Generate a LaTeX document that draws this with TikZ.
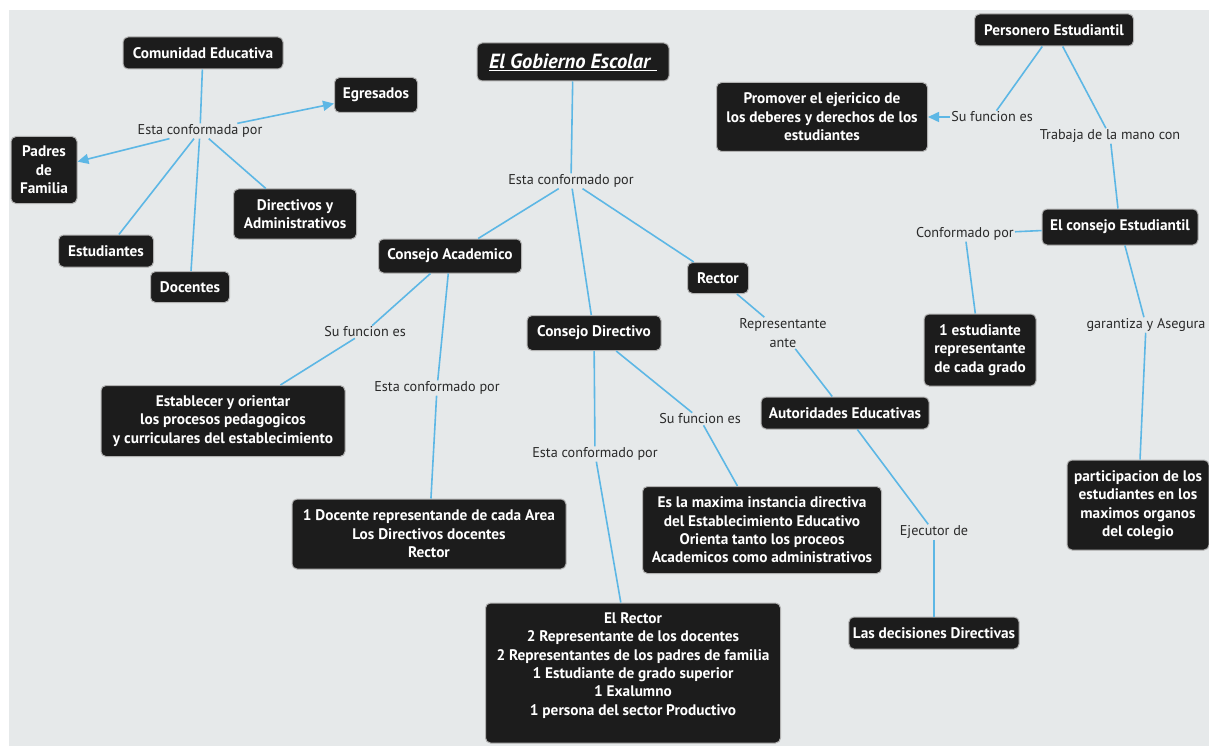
\documentclass[tikz,border=0pt]{standalone}
\usepackage{fontspec}
\setmainfont{PT Sans}
\usepackage{xcolor}
\usetikzlibrary{arrows.meta}
\definecolor{mapbg}{HTML}{E6E9EA}
\definecolor{boxfill}{HTML}{1C1C1C}
\definecolor{linkblue}{HTML}{5DB7E5}
\definecolor{labelgray}{HTML}{2A2A2A}

\begin{document}
\begin{tikzpicture}[
      x=1pt, y=-1pt,
      box/.style={fill=boxfill, draw=black!30, line width=1pt, rounded corners=5pt, text=white, align=center, inner ysep=0pt, inner xsep=4pt, font=\fontsize{15.3}{18.4}\selectfont\bfseries},
      sz/.style 2 args={minimum width=#1pt, minimum height=#2pt},
      lbl/.style={text=labelgray, align=center, inner sep=1pt, font=\fontsize{14.2}{19}\selectfont},
      link/.style={draw=linkblue, line width=1.6pt},
      arr/.style={link, -{Triangle[length=11pt, width=10pt]}}
  ]
    \fill[white] (0,0) rectangle (1209,746);
    \fill[mapbg] (9,10) rectangle (1209,746);
    \useasboundingbox (0,0) rectangle (1209,746);

    \node[box, sz={160}{32}] (comunidad) at (203,53) {Comunidad Educativa};
    \node[lbl] (lblComunidad) at (200,131) {Esta conformada por};
    \node[box, sz={83}{35}] (egresados) at (376,95) {Egresados};
    \node[box, sz={66}{67}] (padres) at (44,170) {Padres\\de\\Familia};
    \node[box, sz={123}{50}] (directivos) at (295,214) {Directivos y\\Administrativos};
    \node[box, sz={95}{32}] (estudiantes) at (106,251) {Estudiantes};
    \node[box, sz={79}{31}] (docentes) at (190,287) {Docentes};

    \node[box, sz={192}{38}, font=\fontsize{20.5}{24}\selectfont\bfseries\itshape] (gobierno) at (573,62) {\underline{El Gobierno Escolar\,\,}};
    \node[lbl] (lblGobierno) at (571,181) {Esta conformado por};
    \node[box, sz={143}{34}] (academico) at (450,256) {Consejo Academico};
    \node[box, sz={61}{31}] (rector) at (718,278) {Rector};
    \node[box, sz={134}{35}] (directivo) at (594,333) {Consejo Directivo};

    \node[lbl] (lblAcadFuncion) at (365,332) {Su funcion es};
    \node[box, sz={244}{71}] (establecer) at (223,421) {Establecer y orientar\\los procesos pedagogicos\\y curriculares del establecimiento};
    \node[lbl] (lblAcadConf) at (437,388) {Esta conformado por};
    \node[box, sz={274}{70}] (docente) at (429,534) {1 Docente representande de cada Area\\Los Directivos docentes\\Rector};

    \node[lbl] (lblDirConf) at (595,454) {Esta conformado por};
    \node[box, sz={295}{140}] (elrector) at (633,673) {El Rector\\2 Representante de los docentes\\2 Representantes de los padres de familia\\1 Estudiante de grado superior\\1 Exalumno\\1 persona del sector Productivo\\~};
    \node[lbl] (lblDirFuncion) at (700,419) {Su funcion es};
    \node[box, sz={239}{87}] (maxima) at (762,530) {Es la maxima instancia directiva\\del Establecimiento Educativo\\Orienta tanto los proceos\\Academicos como administrativos};

    \node[lbl] (lblRepresentante) at (783,333) {Representante\\ante};
    \node[box, sz={168}{32}] (autoridades) at (845,413) {Autoridades Educativas};
    \node[lbl] (lblEjecutor) at (934,532) {Ejecutor de};
    \node[box, sz={153}{32}] (decisiones) at (934,633) {Las decisiones Directivas};

    \node[box, sz={159}{32}] (personero) at (1054,30) {Personero Estudiantil};
    \node[lbl] (lblPersFuncion) at (992,117) {Su funcion es};
    \node[box, sz={211}{69}] (promover) at (822,117) {Promover el ejericico de\\los deberes y derechos de los\\estudiantes};
    \node[lbl] (lblTrabaja) at (1110,136) {Trabaja de la mano con};
    \node[box, sz={156}{36}] (estudiantil) at (1120,227) {El consejo Estudiantil};
    \node[lbl] (lblConformado) at (965,234) {Conformado por};
    \node[box, sz={112}{72}] (unestudiante) at (980,350) {1 estudiante\\representante\\de cada grado};
    \node[lbl] (lblGarantiza) at (1146,325) {garantiza y Asegura};
    \node[box, sz={142}{90}] (participacion) at (1138,505) {participacion de los\\estudiantes en los\\maximos organos\\del colegio};

    \draw[link] (comunidad) -- (lblComunidad);
    \draw[arr] (lblComunidad) -- (egresados);
    \draw[arr] (lblComunidad) -- (padres);
    \draw[link] (lblComunidad) -- (directivos);
    \draw[link] (lblComunidad) -- (estudiantes);
    \draw[link] (lblComunidad) -- (docentes);

    \draw[link] (gobierno) -- (lblGobierno);
    \draw[link] (lblGobierno) -- (academico);
    \draw[link] (lblGobierno) -- (directivo);
    \draw[link] (lblGobierno) -- (rector);

    \draw[link] (academico) -- (lblAcadFuncion);
    \draw[link] (lblAcadFuncion) -- (establecer);
    \draw[link] (academico) -- (lblAcadConf);
    \draw[link] (lblAcadConf) -- (docente);

    \draw[link] (directivo) -- (lblDirConf);
    \draw[link] (lblDirConf) -- (elrector);
    \draw[link] (directivo) -- (lblDirFuncion);
    \draw[link] (lblDirFuncion) -- (maxima);

    \draw[link] (rector) -- (lblRepresentante);
    \draw[link] (lblRepresentante) -- (autoridades);
    \draw[link] (autoridades) -- (lblEjecutor);
    \draw[link] (lblEjecutor) -- (decisiones);

    \draw[link] (personero) -- (lblPersFuncion);
    \draw[arr] (lblPersFuncion) -- (promover);
    \draw[link] (personero) -- (lblTrabaja);
    \draw[link] (lblTrabaja) -- (estudiantil);
    \draw[link] (estudiantil) -- (lblConformado);
    \draw[link] (lblConformado) -- (unestudiante);
    \draw[link] (estudiantil) -- (lblGarantiza);
    \draw[link] (lblGarantiza) -- (participacion);
  \end{tikzpicture}
\end{document}
